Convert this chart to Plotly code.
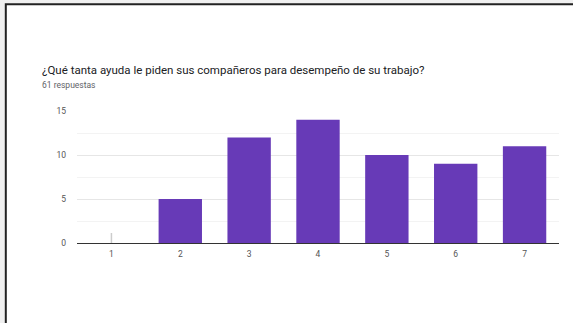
import plotly.graph_objects as go

categories = ["1", "2", "3", "4", "5", "6", "7"]
values = [0, 5, 12, 14, 10, 9, 11]
title_text = "¿Qué tanta ayuda le piden sus compañeros para desempeño de su trabajo?"
subtitle_text = "61 respuestas"

W, H = 573, 323
L, R, T, B = 77, 14, 111, 80
pw = W - L - R
ph = H - T - B

def px_x(p):
    return (p - L) / pw

def px_y(p):
    return (H - B - p) / ph

fig = go.Figure()
fig.add_trace(go.Bar(
    x=categories, y=values,
    marker=dict(color="#673ab7", line=dict(width=0)),
    hoverinfo="skip",
))

shapes = [
    # page frame
    dict(type="rect", xref="paper", yref="paper",
         x0=px_x(5.8), x1=px_x(W + 20), y0=px_y(4.2), y1=px_y(H + 20),
         fillcolor="white", line=dict(color="#222222", width=2), layer="below"),
]
# thin marker for zero-value categories (category index on the x axis)
for i, v in enumerate(values):
    if v == 0:
        shapes.append(dict(type="line", xref="x", yref="y", ysizemode="pixel",
                           yanchor=0, x0=i, x1=i, y0=0, y1=10,
                           line=dict(color="#cccccc", width=1.5)))

fig.update_layout(
    width=W, height=H,
    margin=dict(l=L, r=R, t=T, b=B),
    paper_bgcolor="#f0f0f0",
    plot_bgcolor="rgba(0,0,0,0)",
    bargap=0.37,
    showlegend=False,
    font=dict(family="Roboto, Arial, sans-serif"),
    shapes=shapes,
    annotations=[
        dict(text=title_text, xref="paper", yref="paper", x=px_x(40), y=px_y(70),
             xanchor="left", yanchor="middle", showarrow=False,
             font=dict(size=11.5, color="#202124")),
        dict(text=subtitle_text, xref="paper", yref="paper", x=px_x(40), y=px_y(84.5),
             xanchor="left", yanchor="middle", showarrow=False,
             font=dict(size=8.5, color="#5f6368")),
    ],
    xaxis=dict(
        type="category", showgrid=False, zeroline=False,
        showline=False, ticks="",
        tickfont=dict(size=8.5, color="#555555"),
        ticklabelstandoff=4,
    ),
    yaxis=dict(
        range=[0, 15], tickvals=[0, 5, 10, 15],
        showgrid=True, gridcolor="#e6e6e6", gridwidth=1,
        zeroline=True, zerolinecolor="#333333", zerolinewidth=1,
        showline=False, ticks="",
        tickfont=dict(size=8.5, color="#555555"),
        ticklabelstandoff=10,
        minor=dict(tickvals=[2.5, 7.5, 12.5], showgrid=True, gridcolor="#f3f3f3", gridwidth=1),
    ),
)

fig.write_html("out.html")
